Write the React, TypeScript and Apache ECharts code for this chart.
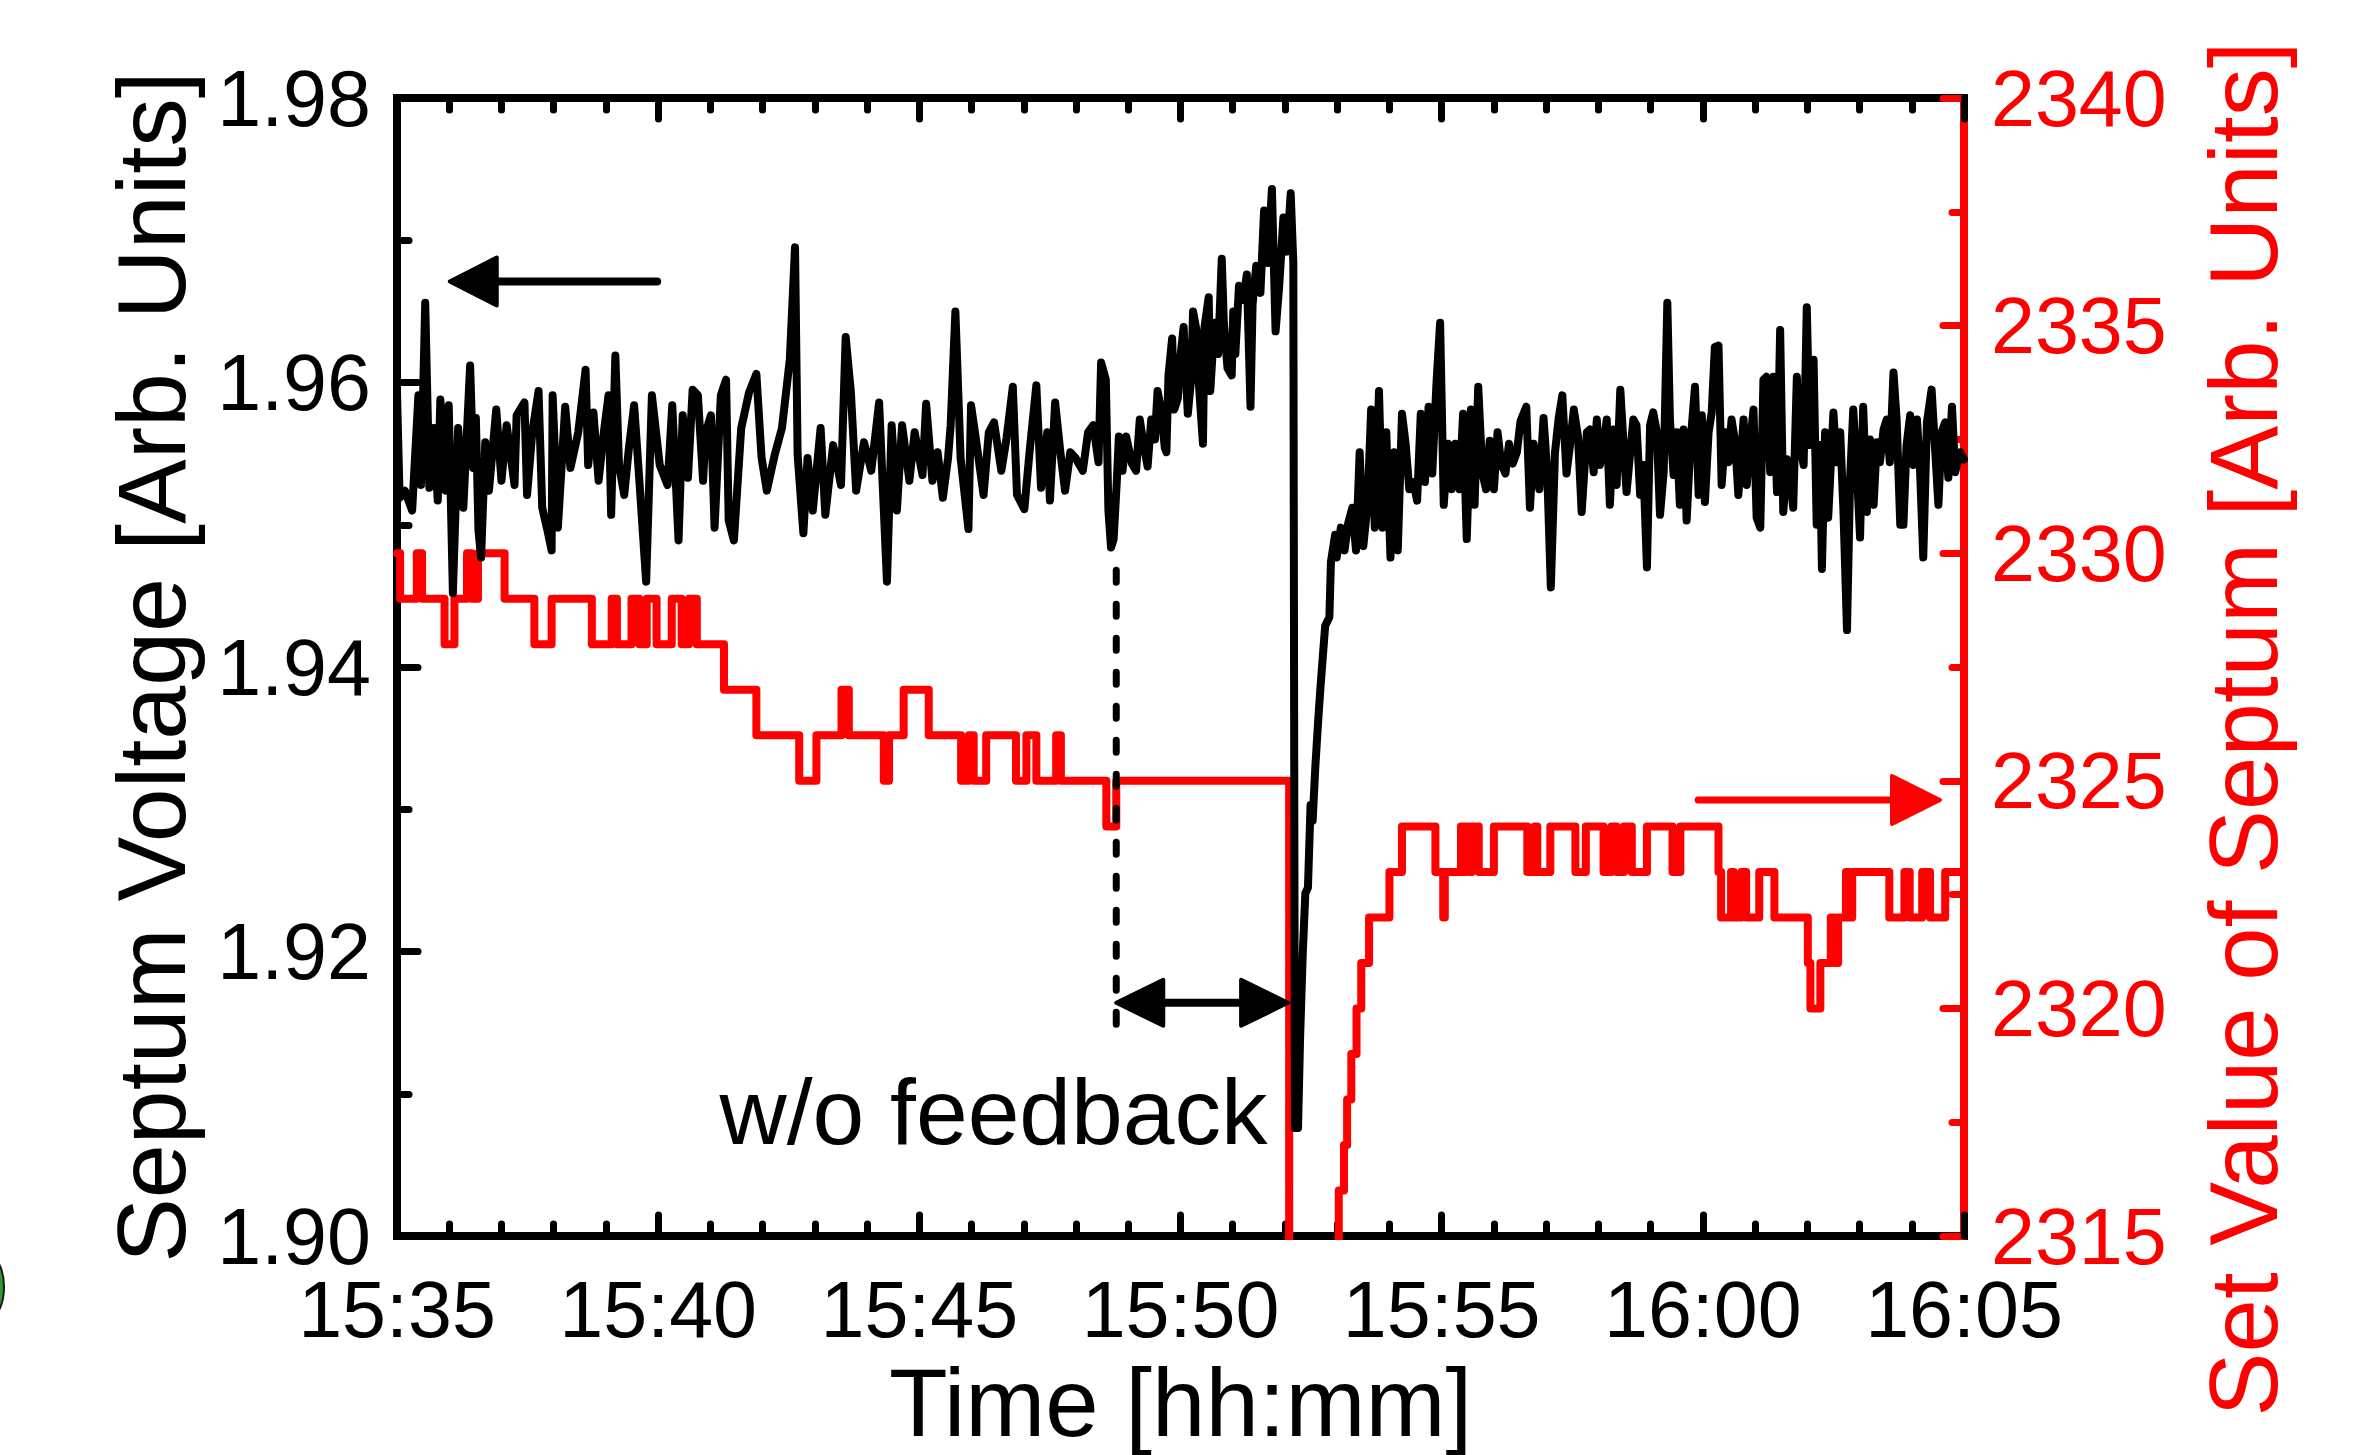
import React, { useEffect, useRef } from 'react';
import * as echarts from 'echarts';

const FONT = '"Liberation Sans", Arial, Helvetica, sans-serif';
const RED = '#ff0000';
const BLACK = '#000000';

// x axis: minutes after 15:35
const xTickLabels = ['15:35', '15:40', '15:45', '15:50', '15:55', '16:00', '16:05'];

// Septum voltage [minutes after 15:35, value]
const voltageBeforeStop: [number, number][] = [
  [0.00, 1.9593], [0.05, 1.9519], [0.15, 1.9524], [0.29, 1.9510], [0.41, 1.9591], [0.46, 1.9528], [0.54, 1.9656],
  [0.62, 1.9526], [0.70, 1.9568], [0.78, 1.9517], [0.83, 1.9588], [0.93, 1.9524], [0.99, 1.9584], [1.07, 1.9452],
  [1.17, 1.9568], [1.27, 1.9512], [1.40, 1.9612], [1.46, 1.9540], [1.51, 1.9575], [1.56, 1.9496], [1.61, 1.9477],
  [1.69, 1.9558], [1.76, 1.9524], [1.90, 1.9581], [2.00, 1.9531], [2.10, 1.9570], [2.25, 1.9528], [2.29, 1.9577],
  [2.44, 1.9586], [2.49, 1.9521], [2.59, 1.9565], [2.71, 1.9594], [2.78, 1.9512], [2.88, 1.9496], [2.96, 1.9482],
  [2.98, 1.9591], [3.08, 1.9498], [3.22, 1.9583], [3.32, 1.9540], [3.47, 1.9565], [3.61, 1.9609], [3.66, 1.9542],
  [3.76, 1.9579], [3.86, 1.9531], [3.96, 1.9565], [4.05, 1.9591], [4.10, 1.9507], [4.18, 1.9619], [4.25, 1.9542],
  [4.35, 1.9521], [4.44, 1.9554], [4.54, 1.9584], [4.64, 1.9531], [4.77, 1.9460], [4.88, 1.9591], [5.03, 1.9542],
  [5.18, 1.9528], [5.27, 1.9584], [5.39, 1.9489], [5.47, 1.9577], [5.57, 1.9533], [5.66, 1.9595], [5.76, 1.9591],
  [5.86, 1.9531], [5.91, 1.9565], [6.01, 1.9577], [6.08, 1.9498], [6.20, 1.9591], [6.30, 1.9602], [6.35, 1.9503],
  [6.45, 1.9489], [6.59, 1.9568], [6.74, 1.9593], [6.88, 1.9606], [6.98, 1.9547], [7.08, 1.9524], [7.23, 1.9549],
  [7.37, 1.9568], [7.52, 1.9616], [7.62, 1.9695], [7.67, 1.9549], [7.78, 1.9494], [7.86, 1.9547], [7.96, 1.9510],
  [8.11, 1.9568], [8.20, 1.9507], [8.35, 1.9556], [8.50, 1.9528], [8.59, 1.9632], [8.69, 1.9593], [8.79, 1.9524],
  [8.94, 1.9558], [9.08, 1.9538], [9.23, 1.9586], [9.38, 1.9460], [9.47, 1.9570], [9.57, 1.9510], [9.67, 1.9570],
  [9.81, 1.9531], [9.91, 1.9565], [10.06, 1.9535], [10.13, 1.9585], [10.25, 1.9531], [10.35, 1.9551], [10.45, 1.9519],
  [10.55, 1.9547], [10.60, 1.9570], [10.69, 1.9650], [10.79, 1.9547], [10.94, 1.9497], [10.99, 1.9584], [11.08, 1.9561],
  [11.23, 1.9521], [11.33, 1.9565], [11.43, 1.9572], [11.57, 1.9538], [11.67, 1.9561], [11.79, 1.9597], [11.87, 1.9521],
  [12.01, 1.9511], [12.11, 1.9551], [12.24, 1.9598], [12.33, 1.9526], [12.45, 1.9565], [12.50, 1.9517], [12.60, 1.9586],
  [12.70, 1.9551], [12.79, 1.9524], [12.89, 1.9551], [12.99, 1.9547], [13.13, 1.9538], [13.23, 1.9565], [13.33, 1.9570],
  [13.43, 1.9544], [13.48, 1.9614], [13.57, 1.9602], [13.62, 1.9510], [13.67, 1.9484], [13.72, 1.9490],
];

const voltageWithoutFeedback: [number, number][] = [
  [13.78, 1.9530], [13.82, 1.9562], [13.89, 1.9538], [13.96, 1.9562], [14.07, 1.9543], [14.15, 1.9538], [14.22, 1.9574],
  [14.29, 1.9557], [14.37, 1.9541], [14.44, 1.9574], [14.51, 1.9560], [14.56, 1.9594], [14.62, 1.9583], [14.70, 1.9554],
  [14.73, 1.9551], [14.77, 1.9605], [14.84, 1.9631], [14.88, 1.9581], [14.95, 1.9589], [14.99, 1.9615], [15.06, 1.9639],
  [15.14, 1.9578], [15.21, 1.9605], [15.24, 1.9650], [15.32, 1.9634], [15.35, 1.9600], [15.43, 1.9557], [15.46, 1.9639],
  [15.54, 1.9660], [15.57, 1.9594], [15.65, 1.9642], [15.72, 1.9620], [15.79, 1.9687], [15.83, 1.9642], [15.90, 1.9610],
  [15.98, 1.9605], [16.01, 1.9650], [16.05, 1.9620], [16.12, 1.9668], [16.20, 1.9658], [16.27, 1.9676], [16.34, 1.9583],
  [16.38, 1.9655], [16.45, 1.9682], [16.53, 1.9663], [16.60, 1.9721], [16.67, 1.9684], [16.75, 1.9736], [16.82, 1.9636],
  [16.89, 1.9668], [16.97, 1.9716], [17.04, 1.9692], [17.11, 1.9733], [17.16, 1.9684],
];

const voltageRecovery: [number, number][] = [
  [17.19, 1.9076], [17.25, 1.9076], [17.29, 1.9140], [17.34, 1.9198], [17.39, 1.9241], [17.44, 1.9245], [17.49, 1.9303],
  [17.53, 1.9292], [17.58, 1.9329], [17.63, 1.9359], [17.68, 1.9386], [17.73, 1.9410], [17.77, 1.9429], [17.85, 1.9435],
  [17.88, 1.9474], [17.96, 1.9493], [17.99, 1.9477], [18.07, 1.9498], [18.14, 1.9482], [18.21, 1.9501], [18.29, 1.9512],
  [18.36, 1.9482], [18.43, 1.9551], [18.50, 1.9485], [18.58, 1.9514], [18.65, 1.9581], [18.72, 1.9498], [18.80, 1.9594],
  [18.87, 1.9498], [18.94, 1.9565], [19.02, 1.9477], [19.09, 1.9551], [19.16, 1.9482], [19.24, 1.9578], [19.31, 1.9557],
  [19.38, 1.9525], [19.46, 1.9530], [19.53, 1.9517], [19.60, 1.9578], [19.68, 1.9530], [19.75, 1.9583], [19.82, 1.9536],
  [19.90, 1.9599], [19.97, 1.9642], [20.04, 1.9514], [20.12, 1.9557], [20.19, 1.9525], [20.26, 1.9557], [20.34, 1.9525],
  [20.41, 1.9578], [20.48, 1.9490], [20.56, 1.9581], [20.63, 1.9514], [20.70, 1.9597], [20.78, 1.9536], [20.85, 1.9525],
  [20.92, 1.9559], [21.00, 1.9525], [21.07, 1.9565], [21.14, 1.9543], [21.22, 1.9536], [21.29, 1.9557], [21.36, 1.9543],
  [21.44, 1.9551], [21.51, 1.9573], [21.62, 1.9583], [21.69, 1.9512], [21.76, 1.9557], [21.87, 1.9525], [21.95, 1.9575],
  [22.02, 1.9538], [22.09, 1.9456], [22.17, 1.9551], [22.24, 1.9575], [22.31, 1.9591], [22.39, 1.9536], [22.46, 1.9557],
  [22.53, 1.9581], [22.61, 1.9562], [22.68, 1.9509],
];

const voltageLate: [number, number][] = [
  [22.78, 1.9565], [22.84, 1.9567], [22.91, 1.9537], [22.97, 1.9574], [23.03, 1.9542], [23.10, 1.9556], [23.16, 1.9574],
  [23.22, 1.9514], [23.29, 1.9567], [23.35, 1.9528], [23.42, 1.9595], [23.48, 1.9558], [23.54, 1.9523], [23.61, 1.9551],
  [23.67, 1.9574], [23.73, 1.9570], [23.80, 1.9521], [23.86, 1.9542], [23.93, 1.9470], [23.99, 1.9570], [24.05, 1.9579],
  [24.12, 1.9565], [24.18, 1.9507], [24.25, 1.9537], [24.32, 1.9656], [24.37, 1.9574], [24.44, 1.9535], [24.50, 1.9565],
  [24.56, 1.9514], [24.63, 1.9567], [24.69, 1.9503], [24.76, 1.9556], [24.85, 1.9597], [24.92, 1.9521], [24.98, 1.9577],
  [25.04, 1.9516], [25.11, 1.9565], [25.17, 1.9579], [25.23, 1.9625], [25.30, 1.9626], [25.36, 1.9528], [25.43, 1.9565],
  [25.49, 1.9544], [25.55, 1.9574], [25.62, 1.9558], [25.68, 1.9521], [25.78, 1.9574], [25.84, 1.9528], [25.90, 1.9556],
  [25.97, 1.9581], [26.03, 1.9505], [26.10, 1.9498], [26.16, 1.9602], [26.22, 1.9604], [26.29, 1.9537], [26.35, 1.9604],
  [26.42, 1.9523], [26.48, 1.9637], [26.54, 1.9509], [26.61, 1.9546], [26.67, 1.9533], [26.73, 1.9512], [26.80, 1.9604],
  [26.86, 1.9556], [26.93, 1.9542], [26.99, 1.9653], [27.05, 1.9556], [27.12, 1.9616], [27.18, 1.9500], [27.24, 1.9556],
  [27.28, 1.9469], [27.34, 1.9565], [27.40, 1.9505], [27.50, 1.9579], [27.56, 1.9544], [27.63, 1.9565], [27.69, 1.9512],
  [27.76, 1.9426], [27.82, 1.9533], [27.88, 1.9581], [27.95, 1.9537], [28.01, 1.9491], [28.07, 1.9583], [28.14, 1.9509],
  [28.20, 1.9560], [28.27, 1.9514], [28.33, 1.9558], [28.39, 1.9544], [28.46, 1.9567], [28.52, 1.9574], [28.58, 1.9544],
  [28.65, 1.9607], [28.71, 1.9574], [28.78, 1.9500], [28.84, 1.9500], [28.90, 1.9556], [28.97, 1.9577], [29.03, 1.9542],
  [29.10, 1.9574], [29.16, 1.9537], [29.22, 1.9477], [29.29, 1.9572], [29.38, 1.9595], [29.45, 1.9551], [29.51, 1.9514],
  [29.57, 1.9565], [29.64, 1.9572], [29.70, 1.9533], [29.77, 1.9583], [29.83, 1.9537], [29.93, 1.9551], [30.00, 1.9546],
];

// Set value of septum: [minute at which the value changes, new value]
const setValueFeedbackOn: [number, number][] = [
  [0.00, 2330], [0.06, 2329], [0.38, 2330], [0.48, 2329], [0.91, 2328], [1.10, 2329], [1.34, 2330], [1.43, 2329],
  [1.55, 2330], [2.06, 2329], [2.63, 2328], [2.96, 2329], [3.73, 2328], [4.11, 2329], [4.21, 2328], [4.49, 2329],
  [4.64, 2328], [4.78, 2329], [4.97, 2328], [5.26, 2329], [5.45, 2328], [5.59, 2329], [5.74, 2328], [6.26, 2327],
  [6.88, 2326], [7.70, 2325], [8.03, 2326], [8.51, 2327], [8.65, 2326], [9.32, 2325], [9.42, 2326], [9.70, 2327],
  [10.18, 2326], [10.80, 2325], [10.95, 2326], [11.04, 2325], [11.28, 2326], [11.85, 2325], [12.05, 2326], [12.24, 2325],
  [12.62, 2326], [12.71, 2325], [13.58, 2324], [13.77, 2325],
];
const setValueOffScale: [number, number][] = [
  [17.08, 2310],
];
const setValueRecovery: [number, number][] = [
  [17.96, 2314], [18.03, 2316], [18.13, 2317], [18.19, 2318], [18.27, 2319], [18.37, 2320], [18.46, 2321], [18.61, 2322],
  [19.00, 2323], [19.24, 2324], [19.88, 2323], [20.03, 2322], [20.06, 2323], [20.37, 2324], [20.42, 2323], [20.46, 2324],
  [20.53, 2323], [20.58, 2324], [20.71, 2323], [21.00, 2324], [21.64, 2323], [21.78, 2324], [21.83, 2323], [22.08, 2324],
  [22.56, 2323], [22.76, 2324], [23.10, 2323], [23.25, 2324], [23.35, 2323], [23.49, 2324], [23.64, 2323], [23.93, 2324],
  [24.42, 2323], [24.57, 2324], [25.30, 2323], [25.35, 2322], [25.54, 2323], [25.59, 2322], [25.74, 2323], [25.83, 2322],
  [26.08, 2323], [26.37, 2322], [27.01, 2321], [27.06, 2320], [27.25, 2321], [27.45, 2322], [27.52, 2321], [27.59, 2322],
  [27.74, 2323], [27.80, 2322], [27.86, 2323], [28.57, 2322], [28.86, 2323], [28.96, 2322], [29.20, 2323], [29.35, 2322],
  [29.64, 2323], [30.00, 2323],
];

// Annotation anchors in data coordinates
const leftArrow = { tail: [4.98, 1.9671], tip: [1.01, 1.9671] };
const rightArrow = { tail: [24.91, 2324.58], tip: [29.54, 2324.58] };
const feedbackSpan = { from: [13.77, 1.9164], to: [17.06, 1.9164] };
const feedbackMarker = { top: [13.77, 1.9468], bottom: [13.77, 1.9141] };
const feedbackLabel = { text: 'w/o feedback', at: [11.42, 1.9087] };
const rightTitle = 'Set Value of Septum [Arb. Units]';

function axisTick(color: string) {
  return { show: true, inside: true, length: 21, lineStyle: { color, width: 7, cap: 'round' } };
}
function minorTick(color: string, n: number) {
  return { show: true, splitNumber: n, length: 12, lineStyle: { color, width: 7, cap: 'round' } };
}
function axisLine(color: string) {
  return { show: true, onZero: false, lineStyle: { color, width: 8, cap: 'square' } };
}

export default function App() {
  const ref = useRef<HTMLDivElement>(null);

  useEffect(() => {
    if (!ref.current) return;
    const chart = echarts.init(ref.current, undefined, { renderer: 'svg' });

    const voltage = [...voltageBeforeStop, ...voltageWithoutFeedback, ...voltageRecovery, ...voltageLate];
    const setValue = [...setValueFeedbackOn, ...setValueOffScale, ...setValueRecovery];

    chart.setOption({
      animation: false,
      backgroundColor: '#ffffff',
      textStyle: { fontFamily: FONT },
      grid: { left: 397, right: 410, top: 98, bottom: 203, containLabel: false },
      xAxis: [
        {
          type: 'value', min: 0, max: 30, interval: 5, position: 'bottom',
          axisLine: axisLine(BLACK),
          axisTick: axisTick(BLACK),
          minorTick: minorTick(BLACK, 5),
          splitLine: { show: false },
          axisLabel: {
            show: true, margin: 34, color: BLACK, fontSize: 79, fontFamily: FONT,
            showMinLabel: true, showMaxLabel: true,
            formatter: (v: number) => xTickLabels[Math.round(v / 5)] ?? '',
          },
          name: 'Time [hh:mm]', nameLocation: 'middle', nameGap: 115,
          nameTextStyle: { color: BLACK, fontSize: 96, fontFamily: FONT },
        },
        {
          type: 'value', min: 0, max: 30, interval: 5, position: 'top',
          axisLine: axisLine(BLACK),
          axisTick: axisTick(BLACK),
          minorTick: minorTick(BLACK, 5),
          splitLine: { show: false },
          axisLabel: { show: false },
        },
      ],
      yAxis: [
        {
          type: 'value', min: 1.9, max: 1.98, interval: 0.02, position: 'left',
          axisLine: axisLine(BLACK),
          axisTick: axisTick(BLACK),
          minorTick: minorTick(BLACK, 2),
          splitLine: { show: false },
          axisLabel: {
            show: true, margin: 26, color: BLACK, fontSize: 79, fontFamily: FONT,
            showMinLabel: true, showMaxLabel: true,
            formatter: (v: number) => v.toFixed(2),
          },
          name: 'Septum Voltage [Arb. Units]', nameLocation: 'middle', nameGap: 197,
          nameTextStyle: { color: BLACK, fontSize: 97, fontFamily: FONT },
        },
        {
          type: 'value', min: 2315, max: 2340, interval: 5, position: 'right',
          axisLine: axisLine(RED),
          axisTick: axisTick(RED),
          minorTick: minorTick(RED, 2),
          splitLine: { show: false },
          axisLabel: {
            show: true, margin: 27, color: RED, fontSize: 79, fontFamily: FONT,
            showMinLabel: true, showMaxLabel: true,
            formatter: (v: number) => String(Math.round(v)),
          },
        },
      ],
      series: [
        {
          name: 'Set Value of Septum', type: 'line', xAxisIndex: 0, yAxisIndex: 1,
          data: setValue, step: 'end', showSymbol: false, symbol: 'none', clip: true,
          lineStyle: { color: RED, width: 8, join: 'round', cap: 'round' }, z: 2,
        },
        {
          name: 'Septum Voltage', type: 'line', xAxisIndex: 0, yAxisIndex: 0,
          data: voltage, showSymbol: false, symbol: 'none', clip: true,
          lineStyle: { color: BLACK, width: 8, join: 'round', cap: 'round' }, z: 3,
        },
      ],
    });

    const px = (xy: number[], yAxisIndex = 0) =>
      chart.convertToPixel({ xAxisIndex: 0, yAxisIndex }, xy) as number[];

    const arrowHead = (tip: number[], dir: number, len: number, half: number, color: string) => ({
      type: 'polygon',
      z: 100,
      shape: { points: [[tip[0], tip[1]], [tip[0] - dir * len, tip[1] - half], [tip[0] - dir * len, tip[1] + half]] },
      style: { fill: color, stroke: color, lineWidth: 4, lineJoin: 'round' },
    });

    const la = { tail: px(leftArrow.tail), tip: px(leftArrow.tip) };
    const ra = { tail: px(rightArrow.tail, 1), tip: px(rightArrow.tip, 1) };
    const fa = { from: px(feedbackSpan.from), to: px(feedbackSpan.to) };
    const fm = { top: px(feedbackMarker.top), bottom: px(feedbackMarker.bottom) };
    const fl = px(feedbackLabel.at);
    const gridMidY = (px([0, 1.98])[1] + px([0, 1.9])[1]) / 2;
    const rightAxisX = px([30, 1.94])[0];

    const elements: any[] = [
      // left arrow (points to left axis)
      { type: 'line', z: 100, shape: { x1: la.tail[0], y1: la.tail[1], x2: la.tip[0] + 30, y2: la.tip[1] },
        style: { stroke: BLACK, lineWidth: 8, lineCap: 'round' } },
      arrowHead(la.tip, -1, 47, 24, BLACK),
      // right arrow (points to right axis)
      { type: 'line', z: 100, shape: { x1: ra.tail[0], y1: ra.tail[1], x2: ra.tip[0] - 30, y2: ra.tip[1] },
        style: { stroke: RED, lineWidth: 7, lineCap: 'round' } },
      arrowHead(ra.tip, 1, 48, 24, RED),
      // dashed marker where feedback was switched off
      { type: 'line', z: 100, shape: { x1: fm.top[0], y1: fm.top[1], x2: fm.bottom[0], y2: fm.bottom[1] },
        style: { stroke: BLACK, lineWidth: 7, lineDash: [12, 22], lineCap: 'round' } },
      // double arrow
      { type: 'line', z: 100, shape: { x1: fa.from[0] + 30, y1: fa.from[1], x2: fa.to[0] - 30, y2: fa.to[1] },
        style: { stroke: BLACK, lineWidth: 8, lineCap: 'round' } },
      arrowHead(fa.from, -1, 47, 23, BLACK),
      arrowHead(fa.to, 1, 47, 23, BLACK),
      {
        type: 'text', z: 100, x: fl[0], y: fl[1],
        style: {
          text: feedbackLabel.text, fill: BLACK, fontSize: 93, fontFamily: FONT,
          align: 'center', verticalAlign: 'middle', textAlign: 'center', textVerticalAlign: 'middle',
        },
      },
      // right axis title (sits a little below the axis middle, as in the original)
      {
        type: 'text', z: 100, x: rightAxisX + 279, y: gridMidY + 62, rotation: Math.PI / 2,
        style: {
          text: rightTitle, fill: RED, fontSize: 96, fontFamily: FONT,
          align: 'center', verticalAlign: 'middle', textAlign: 'center', textVerticalAlign: 'middle',
        },
      },
      // cropped neighbouring figure edge at the far left
      { type: 'ellipse', z: 100, shape: { cx: -10, cy: 1287, rx: 14, ry: 30 },
        style: { fill: '#2e9a2e', stroke: '#1a1a1a', lineWidth: 2 } },
    ];

    chart.setOption({ graphic: { elements } });

    return () => chart.dispose();
  }, []);

  return (
    <div
      ref={ref}
      style={{ position: 'fixed', left: 0, top: 0, width: 2374, height: 1455, background: '#fff' }}
    />
  );
}
